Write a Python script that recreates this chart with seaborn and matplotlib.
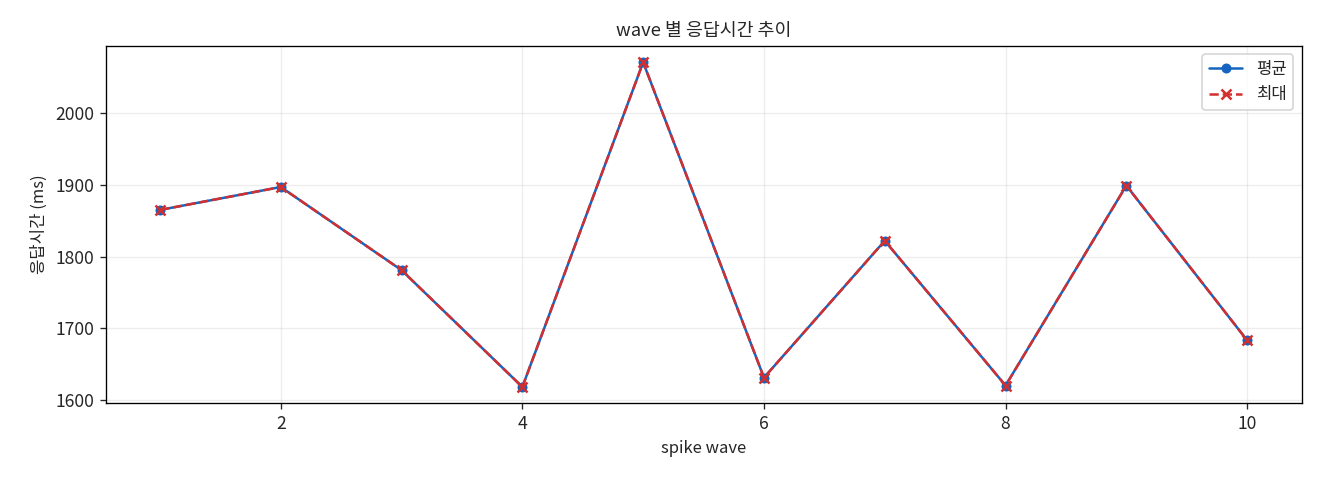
import matplotlib
matplotlib.use('Agg')
import matplotlib.pyplot as plt
import seaborn as sns
import pandas as pd

# ── Data ──────────────────────────────────────────────
waves = [1, 2, 3, 4, 5, 6, 7, 8, 9, 10]
avg_ms = [1865, 1897, 1781, 1618, 2071, 1631, 1822, 1620, 1899, 1683]
max_ms = [1865, 1897, 1781, 1618, 2071, 1631, 1822, 1620, 1899, 1683]

sns.set_style('white')
plt.rcParams['font.family'] = ['Noto Sans CJK KR', 'DejaVu Sans']
plt.rcParams['axes.unicode_minus'] = False

df = pd.DataFrame({'wave': waves, 'avg': avg_ms, 'max': max_ms})

BLUE = '#1565C0'
RED = '#D32F2F'

fig, ax = plt.subplots(figsize=(11, 4), dpi=120)
sns.lineplot(data=df, x='wave', y='avg', ax=ax, color=BLUE, label='평균')
sns.lineplot(data=df, x='wave', y='max', ax=ax, color=RED, label='최대')

# seaborn overrides marker edge / dash style, so set them on the line objects
l_avg, l_max = ax.lines[0], ax.lines[1]
l_avg.set(marker='o', markersize=6, markerfacecolor=BLUE, markeredgecolor=BLUE,
          markeredgewidth=0, linewidth=1.5, linestyle='-')
l_max.set(marker='x', markersize=6, markerfacecolor=RED, markeredgecolor=RED,
          markeredgewidth=1.5, linewidth=1.5, linestyle='--')

ax.set_title('wave 별 응답시간 추이', fontsize=11)
ax.set_xlabel('spike wave', fontsize=10)
ax.set_ylabel('응답시간 (ms)', fontsize=10)
ax.grid(True, alpha=0.35)
for s in ax.spines.values():
    s.set_color('black')
    s.set_linewidth(0.8)
ax.tick_params(axis='both', which='both', length=3.5, width=0.8, labelsize=10.5,
               left=True, bottom=True)
ax.legend(handles=[l_avg, l_max], labels=['평균', '최대'], loc='upper right', fontsize=10)

fig.subplots_adjust(left=0.080, right=0.986, top=0.904, bottom=0.160)
plt.savefig('out.png')
